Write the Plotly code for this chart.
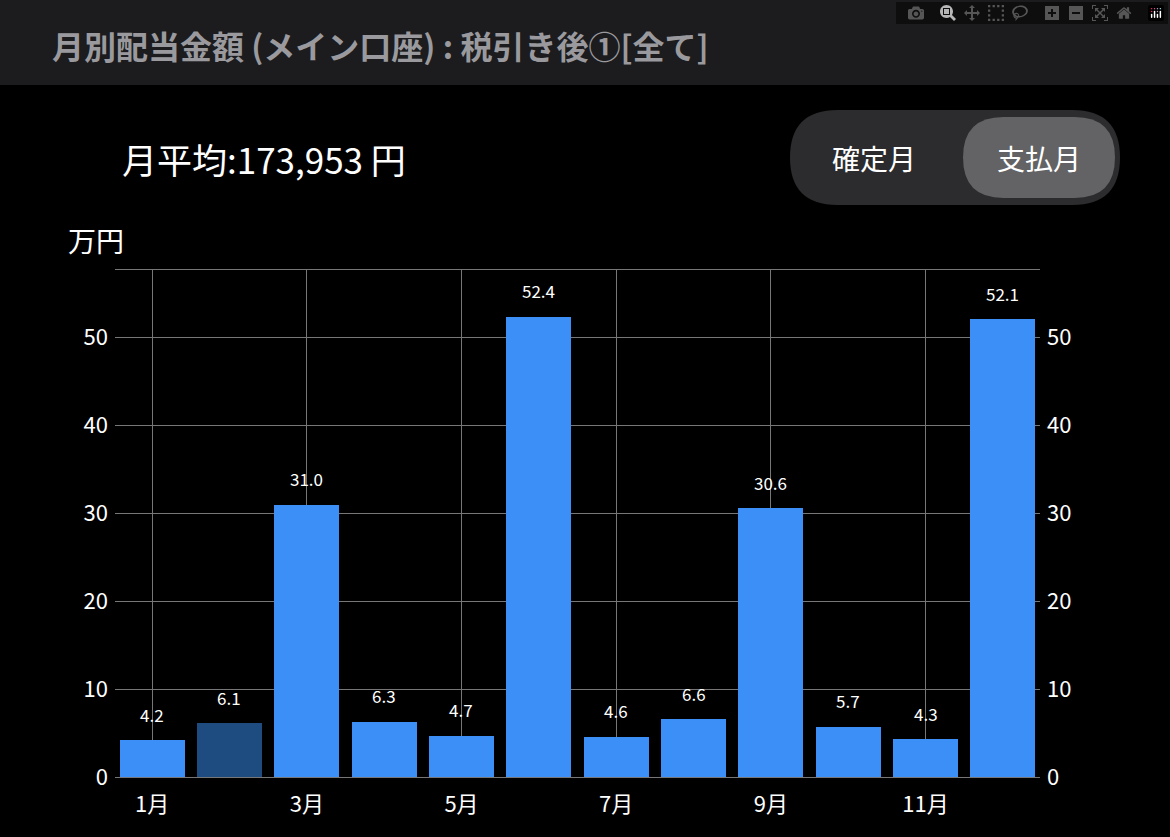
import plotly.graph_objects as go

months = list(range(1, 13))
values = [4.2, 6.1, 31.0, 6.3, 4.7, 52.4, 4.6, 6.6, 30.6, 5.7, 4.3, 52.1]
labels = ["4.2", "6.1", "31.0", "6.3", "4.7", "52.4", "4.6", "6.6", "30.6", "5.7", "4.3", "52.1"]
tick_vals = [1, 3, 5, 7, 9, 11]
tick_text = ["1月", "3月", "5月", "7月", "9月", "11月"]
y_ticks = [0, 10, 20, 30, 40, 50]

colors = ["#3b8ff7"] * 12
colors[1] = "#1e4b80"

F = "Noto Sans CJK JP"
fig = go.Figure()
fig.add_trace(go.Bar(x=months, y=values, marker=dict(color=colors, line=dict(width=0)),
                     width=0.84, hoverinfo="skip"))
fig.add_trace(go.Scatter(x=[1], y=[0], yaxis="y2", mode="markers", marker=dict(opacity=0),
                         hoverinfo="skip", showlegend=False))
for m, v, t in zip(months, values, labels):
    fig.add_annotation(x=m, y=v, text=t, showarrow=False, yshift=26, yanchor="middle",
                       font=dict(color="white", size=17, family=F))

W, H = 1170, 837
L, R, T, B = 115, 1040, 270, 777
tf = dict(color="white", size=22, family=F)
fig.update_layout(
    width=W, height=H, paper_bgcolor="black", plot_bgcolor="black",
    margin=dict(l=L, r=W - R, t=T, b=H - B), showlegend=False, bargap=0,
    xaxis=dict(range=[0.52, 12.48], tickvals=tick_vals, ticktext=tick_text,
               showgrid=True, gridcolor="#777", gridwidth=1, zeroline=False,
               showline=True, linecolor="#777", mirror=True, ticks="",
               ticklabelstandoff=8, tickfont=tf),
    yaxis=dict(range=[0, 57.7], tickvals=y_ticks, showgrid=True, gridcolor="#777",
               zeroline=False, showline=False, ticks="", ticklabelstandoff=6, tickfont=tf),
    yaxis2=dict(range=[0, 57.7], tickvals=y_ticks, overlaying="y", side="right",
                showgrid=False, zeroline=False, ticks="", ticklabelstandoff=6, tickfont=tf),
)
py = lambda y: (B - y) / (B - T)
px = lambda x: (x - L) / (R - L)
def pill(x0, x1, y0, y1, color):
    r = (y1 - y0) / 2
    ym = (y0 + y1) / 2
    return dict(type="path", xref="paper", yref="paper",
                path=f"M {px(x0+r)},{py(y0)} L {px(x1-r)},{py(y0)} Q {px(x1)},{py(y0)} {px(x1)},{py(ym)} Q {px(x1)},{py(y1)} {px(x1-r)},{py(y1)} L {px(x0+r)},{py(y1)} Q {px(x0)},{py(y1)} {px(x0)},{py(ym)} Q {px(x0)},{py(y0)} {px(x0+r)},{py(y0)} Z",
                fillcolor=color, line_width=0)
fig.layout.shapes = [
    dict(type="rect", xref="paper", yref="paper", x0=px(0), x1=px(W), y0=py(85), y1=py(0),
         fillcolor="#1c1c1e", line_width=0),
    pill(790, 1120, 110, 205, "#2c2c2e"),
    pill(963, 1115, 117, 198, "#636366"),
]
ann = [
    (50, 45, "月別配当金額 (メイン口座) : 税引き後①[全て]", 32, "#9a9a9e", "left", True),
    (120, 158, "月平均:173,953 円", 35, "white", "left", False),
    (874, 158, "確定月", 28, "white", "center", False),
    (1039, 158, "支払月", 28, "white", "center", False),
    (66, 240, "万円", 28, "white", "left", False),
]
for x, y, t, s, c, a, b in ann:
    fig.add_annotation(xref="paper", yref="paper", x=px(x), y=py(y), text=f"<b>{t}</b>" if b else t,
                       showarrow=False, xanchor=a, yanchor="middle",
                       font=dict(size=s, color=c, family=F))
fig.write_html("out.html")
with open("out.html", encoding="utf-8") as f:
    html = f.read()
html = html.replace("<body>", '<body style="margin:0;background:black">', 1)
with open("out.html", "w", encoding="utf-8") as f:
    f.write(html)
